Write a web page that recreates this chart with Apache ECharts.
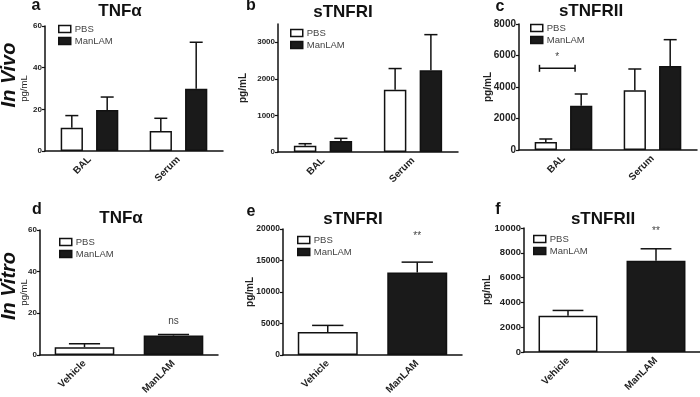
<!DOCTYPE html>
<html>
<head>
<meta charset="utf-8">
<script src="https://cdn.jsdelivr.net/npm/echarts@6/dist/echarts.min.js"></script>
<style>
  html, body { margin: 0; padding: 0; background: #fff; }
  #chart { width: 700px; height: 397px; }
</style>
</head>
<body>
<div id="chart"></div>
<script>
// categories
const vivoGroups = ['BAL', 'Serum']
const vitroGroups = ['Vehicle', 'ManLAM']

// in vivo (mean / sd), BAL then Serum
const tnfaVivoPbs = [11.2, 9.6]
const tnfaVivoPbsSd = [5.8, 6.1]
const tnfaVivoMan = [19.7, 29.9]
const tnfaVivoManSd = [6.2, 22.3]

const r1VivoPbs = [170, 1700]
const r1VivoPbsSd = [57, 582]
const r1VivoMan = [300, 2236]
const r1VivoManSd = [73, 973]

const r2VivoPbs = [508, 3788]
const r2VivoPbsSd = [190, 1355]
const r2VivoMan = [2815, 5333]
const r2VivoManSd = [741, 1672]

// in vitro (mean / sd), one bar per group
const tnfaVitro = [3.7, 9.3]
const tnfaVitroSd = [1.7, 0.5]
const r1Vitro = [3632, 13105]
const r1VitroSd = [1052, 1632]
const r2Vitro = [2919, 7351]
const r2VitroSd = [432, 973]

// y axes
const yMax = [60, 3500, 8000, 60, 20000, 10000]
const yStep = [20, 1000, 2000, 20, 5000, 2000]

// significance marks: [category, value, text]
const sigC = [[0, 5185, '*']]
const sigD = [[1, 16.3, 'ns']]
const sigE = [[1, 18789, '**']]
const sigF = [[1, 9730, '**']]

const FONT = '"Liberation Sans", Arial, sans-serif'
const INK = '#111'

const grids = [
  { left: 45, top: 26, width: 178, height: 125 },
  { left: 278, top: 24, width: 180, height: 128 },
  { left: 519, top: 24, width: 178, height: 126 },
  { left: 40, top: 230, width: 178, height: 125 },
  { left: 283, top: 229, width: 179, height: 127 },
  { left: 524, top: 228, width: 176, height: 124 }
]
const nameGaps = [16, 30, 26, 11, 28, 32]
const tickFont = [8, 8, 10, 8, 8.5, 9.5]

// bar geometry as a fraction of the category band
const pairBar = 0.25, pairGap = 0.59
const pairOff = (pairBar + pairBar * pairGap) / 2

const pbsStyle = { color: '#fff', borderColor: INK, borderWidth: 1.5 }
const manStyle = { color: '#1a1a1a', borderColor: INK, borderWidth: 1.5 }

function errorBar(offFrac, capFrac) {
  return function (params, api) {
    const bw = api.size([1, 0])[0]
    const base = api.coord([api.value(0), api.value(1)])
    const top = api.coord([api.value(0), api.value(1) + api.value(2)])
    const x = base[0] + offFrac * bw
    const cap = capFrac * bw / 2
    const st = { stroke: INK, lineWidth: 1.5 }
    return {
      type: 'group',
      children: [
        { type: 'line', shape: { x1: x, y1: base[1], x2: x, y2: top[1] }, style: st },
        { type: 'line', shape: { x1: x - cap, y1: top[1], x2: x + cap, y2: top[1] }, style: st }
      ]
    }
  }
}

function sigText(params, api) {
  const p = api.coord([api.value(0), api.value(1)])
  return {
    type: 'text', x: p[0], y: p[1],
    style: { text: api.value(2), textAlign: 'center', textVerticalAlign: 'middle',
      font: '10px ' + FONT, fill: '#444' }
  }
}

function sigBracket(params, api) {
  const bw = api.size([1, 0])[0]
  const p = api.coord([api.value(0), api.value(1)])
  const cx = p[0] - 0.07 * bw, half = 0.2 * bw
  const st = { stroke: INK, lineWidth: 1.5 }
  return {
    type: 'group',
    children: [
      { type: 'line', shape: { x1: cx - half, y1: p[1], x2: cx + half, y2: p[1] }, style: st },
      { type: 'line', shape: { x1: cx - half, y1: p[1] - 3.5, x2: cx - half, y2: p[1] + 3.5 }, style: st },
      { type: 'line', shape: { x1: cx + half, y1: p[1] - 3.5, x2: cx + half, y2: p[1] + 3.5 }, style: st },
      { type: 'text', x: cx, y: p[1] - 11,
        style: { text: api.value(2), textAlign: 'center', textVerticalAlign: 'middle', font: '10px ' + FONT, fill: '#444' } }
    ]
  }
}

const xAxes = [], yAxes = [], series = [], legends = []

grids.forEach((g, i) => {
  const thin = i === 0 || i === 3
  xAxes.push({
    type: 'category', gridIndex: i,
    data: i < 3 ? vivoGroups : vitroGroups,
    axisLine: { lineStyle: { color: INK, width: 1.5 } },
    axisTick: { alignWithLabel: true, length: 4, lineStyle: { color: INK, width: 1.2 } },
    axisLabel: { interval: 0, rotate: 45, margin: 7, color: '#222', fontWeight: 'bold', fontSize: 10, fontFamily: FONT }
  })
  yAxes.push({
    type: 'value', gridIndex: i, min: 0, max: yMax[i], interval: yStep[i],
    name: 'pg/mL', nameLocation: 'middle', nameGap: nameGaps[i], nameRotate: 90, nameMoveOverlap: false,
    nameTextStyle: { fontSize: thin ? 9.5 : 10, color: '#222', fontFamily: FONT, fontWeight: thin ? 'normal' : 'bold' },
    axisLine: { show: true, lineStyle: { color: INK, width: 1.5 } },
    axisTick: { show: true, length: 3, lineStyle: { color: INK, width: 1.2 } },
    splitLine: { show: false },
    axisLabel: { showMaxLabel: i !== 1, margin: 3, color: '#222', fontWeight: 'bold', fontSize: tickFont[i], fontFamily: FONT,
      formatter: v => String(v) }
  })
})

// top row: grouped bars
const vivo = [
  [tnfaVivoPbs, tnfaVivoPbsSd, tnfaVivoMan, tnfaVivoManSd],
  [r1VivoPbs, r1VivoPbsSd, r1VivoMan, r1VivoManSd],
  [r2VivoPbs, r2VivoPbsSd, r2VivoMan, r2VivoManSd]
]
vivo.forEach((d, i) => {
  series.push({ name: 'PBS', type: 'bar', xAxisIndex: i, yAxisIndex: i, data: d[0],
    barWidth: pairBar * 100 + '%', barGap: pairGap * 100 + '%', itemStyle: pbsStyle })
  series.push({ name: 'ManLAM', type: 'bar', xAxisIndex: i, yAxisIndex: i, data: d[2],
    barWidth: pairBar * 100 + '%', barGap: pairGap * 100 + '%', itemStyle: manStyle })
  series.push({ type: 'custom', xAxisIndex: i, yAxisIndex: i, renderItem: errorBar(-pairOff, 0.146),
    data: d[0].map((v, k) => [k, v, d[1][k]]), z: 3 })
  series.push({ type: 'custom', xAxisIndex: i, yAxisIndex: i, renderItem: errorBar(pairOff, 0.146),
    data: d[2].map((v, k) => [k, v, d[3][k]]), z: 3 })
})

// bottom row: one bar per group
const vitro = [[tnfaVitro, tnfaVitroSd], [r1Vitro, r1VitroSd], [r2Vitro, r2VitroSd]]
vitro.forEach((d, j) => {
  const i = j + 3
  series.push({ name: 'PBS', type: 'bar', xAxisIndex: i, yAxisIndex: i, data: [d[0][0], '-'],
    barWidth: '67%', barGap: '-100%', itemStyle: pbsStyle })
  series.push({ name: 'ManLAM', type: 'bar', xAxisIndex: i, yAxisIndex: i, data: ['-', d[0][1]],
    barWidth: '67%', barGap: '-100%', itemStyle: manStyle })
  series.push({ type: 'custom', xAxisIndex: i, yAxisIndex: i, renderItem: errorBar(0, 0.35),
    data: d[0].map((v, k) => [k, v, d[1][k]]), z: 3 })
})

series.push({ type: 'custom', xAxisIndex: 2, yAxisIndex: 2, renderItem: sigBracket, data: sigC, z: 4 })
series.push({ type: 'custom', xAxisIndex: 3, yAxisIndex: 3, renderItem: sigText, data: sigD, z: 4 })
series.push({ type: 'custom', xAxisIndex: 4, yAxisIndex: 4, renderItem: sigText, data: sigE, z: 4 })
series.push({ type: 'custom', xAxisIndex: 5, yAxisIndex: 5, renderItem: sigText, data: sigF, z: 4 })

// legend boxes (left, top)
const legendPos = [[58, 24], [290, 28], [530, 23], [59, 237], [297, 235], [533, 234]]
legendPos.forEach(p => {
  legends.push({
    left: p[0], top: p[1], orient: 'vertical', itemWidth: 12, itemHeight: 7, itemGap: 2,
    selectedMode: false, padding: 0,
    textStyle: { fontSize: 9.5, color: '#444', fontFamily: FONT, padding: [0, 0, 0, -1] },
    data: [
      { name: 'PBS', icon: 'rect', itemStyle: pbsStyle },
      { name: 'ManLAM', icon: 'rect', itemStyle: manStyle }
    ]
  })
})

function label(text, x, y, font, rot) {
  return { type: 'text', x: x, y: y, rotation: rot || 0,
    style: { text: text, textAlign: 'center', textVerticalAlign: 'middle', font: font, fill: '#111' } }
}
const titleFont = 'bold 17px ' + FONT
const letterFont = 'bold 16px ' + FONT
const sideFont = 'italic bold 20px ' + FONT

const option = {
  animation: false,
  grid: grids,
  xAxis: xAxes,
  yAxis: yAxes,
  legend: legends,
  series: series,
  graphic: [
    label('a', 36, 6, letterFont), label('TNFα', 120, 11, titleFont),
    label('b', 251, 6, letterFont), label('sTNFRI', 343, 12, titleFont),
    label('c', 500, 7, letterFont), label('sTNFRII', 591, 11, titleFont),
    label('d', 37, 210, letterFont), label('TNFα', 121, 218, titleFont),
    label('e', 251, 212, letterFont), label('sTNFRI', 353, 219, titleFont),
    label('f', 498, 210, letterFont), label('sTNFRII', 603, 219, titleFont),
    label('In Vivo', 9, 75, sideFont, Math.PI / 2),
    label('In Vitro', 9, 286, sideFont, Math.PI / 2)
  ]
}

const chartIns = echarts.init(document.getElementById('chart'))
chartIns.setOption(option)
</script>
</body>
</html>
